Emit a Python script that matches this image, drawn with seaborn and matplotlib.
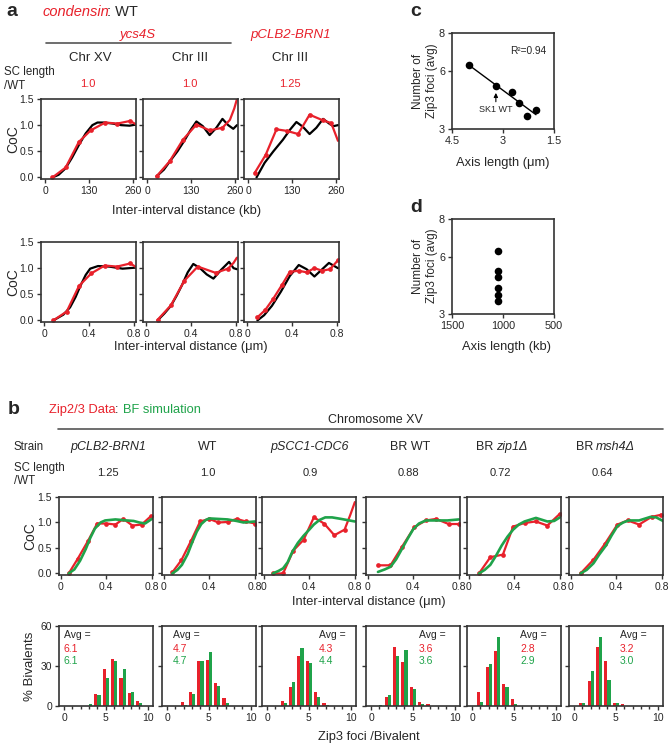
import numpy as np
import pandas as pd
import matplotlib
matplotlib.use('Agg')
import matplotlib.pyplot as plt
from matplotlib.lines import Line2D
import seaborn as sns

# ---------------- data ----------------
# Panel a, top row (kb)
A1_BLACK_X = [22, 40, 60, 80, 100, 120, 140, 155, 175, 200, 225, 250, 268]
A1_BLACK_Y = [0.0, 0.05, 0.17, 0.38, 0.62, 0.84, 1.0, 1.05, 1.05, 1.03, 1.0, 0.99, 1.01]
A1_RED_X = [22, 61, 100, 135, 178, 214, 251, 268]
A1_RED_Y = [0.0, 0.19, 0.68, 0.9, 1.05, 1.03, 1.08, 1.02]

A2_BLACK_X = [28, 50, 70, 90, 110, 130, 146, 165, 185, 205, 223, 240, 255, 266]
A2_BLACK_Y = [0.02, 0.15, 0.33, 0.5, 0.7, 0.92, 1.07, 0.98, 0.81, 0.95, 1.12, 1.0, 0.93, 1.0]
A2_RED_X = [28, 67, 106, 146, 185, 223, 245, 258, 266]
A2_RED_Y = [0.02, 0.31, 0.72, 1.01, 0.9, 0.95, 1.1, 1.32, 1.5]

A3_BLACK_X = [25, 49, 75, 103, 125, 143, 162, 182, 202, 222, 240, 252, 266]
A3_BLACK_Y = [0.0, 0.28, 0.5, 0.72, 0.92, 1.06, 0.97, 0.83, 0.95, 1.12, 1.03, 0.98, 1.0]
A3_RED_X = [20, 52, 84, 115, 148, 182, 222, 246, 266]
A3_RED_Y = [0.09, 0.43, 0.92, 0.89, 0.83, 1.2, 1.09, 1.04, 0.7]

# Panel a, bottom row (um)
A4_BLACK_X = [0.08, 0.17, 0.23, 0.28, 0.32, 0.37, 0.41, 0.48, 0.58, 0.7, 0.82]
A4_BLACK_Y = [0.0, 0.11, 0.25, 0.45, 0.65, 0.87, 0.99, 1.04, 1.03, 0.99, 1.01]
A4_RED_X = [0.08, 0.20, 0.31, 0.42, 0.54, 0.65, 0.77, 0.82]
A4_RED_Y = [0.0, 0.17, 0.66, 0.9, 1.05, 1.03, 1.09, 1.02]

A5_BLACK_X = [0.10, 0.16, 0.22, 0.27, 0.32, 0.37, 0.42, 0.48, 0.54, 0.60, 0.67, 0.74, 0.78, 0.81]
A5_BLACK_Y = [0.0, 0.13, 0.28, 0.47, 0.68, 0.92, 1.08, 1.0, 0.88, 0.80, 0.97, 1.12, 1.0, 0.98]
A5_RED_X = [0.10, 0.22, 0.34, 0.46, 0.62, 0.73, 0.78, 0.81]
A5_RED_Y = [0.01, 0.29, 0.76, 1.03, 0.91, 0.99, 1.1, 1.2]

A6_BLACK_X = [0.09, 0.15, 0.22, 0.30, 0.38, 0.46, 0.53, 0.60, 0.67, 0.73, 0.81]
A6_BLACK_Y = [0.0, 0.1, 0.28, 0.55, 0.85, 1.06, 0.98, 0.84, 0.98, 1.1, 1.0]
A6_RED_X = [0.09, 0.16, 0.23, 0.31, 0.38, 0.46, 0.53, 0.60, 0.67, 0.74, 0.81]
A6_RED_Y = [0.06, 0.2, 0.41, 0.68, 0.93, 0.95, 0.92, 1.0, 0.95, 0.98, 1.15]

# Panel c / d
C_AXIS_UM = [4.0, 3.21, 2.74, 2.53, 2.29, 2.03]
C_ZIP3 = [6.33, 5.24, 4.93, 4.35, 3.68, 3.99]
D_AXIS_KB = [1050, 1050, 1050, 1050, 1050, 1050]
D_ZIP3 = [6.33, 5.24, 4.93, 4.35, 3.99, 3.68]

# Panel b, CoC curves (um)
B1_RED_X = [0.07, 0.15, 0.24, 0.32, 0.40, 0.48, 0.55, 0.63, 0.71, 0.79]
B1_RED_Y = [0.0, 0.29, 0.64, 0.98, 0.98, 0.96, 1.07, 0.94, 0.96, 1.12]
B1_GRN_X = [0.07, 0.12, 0.17, 0.22, 0.26, 0.30, 0.35, 0.39, 0.48, 0.58, 0.64, 0.69, 0.74, 0.80]
B1_GRN_Y = [0.0, 0.08, 0.25, 0.48, 0.70, 0.88, 1.0, 1.04, 1.06, 1.04, 1.03, 1.0, 0.98, 1.07]

B2_RED_X = [0.075, 0.155, 0.24, 0.32, 0.40, 0.48, 0.56, 0.64, 0.72, 0.80]
B2_RED_Y = [0.02, 0.26, 0.64, 1.02, 1.07, 1.0, 1.01, 1.07, 1.02, 0.98]
B2_GRN_X = [0.075, 0.12, 0.16, 0.21, 0.25, 0.29, 0.33, 0.37, 0.40, 0.48, 0.56, 0.64, 0.70, 0.80]
B2_GRN_Y = [0.0, 0.07, 0.17, 0.38, 0.61, 0.82, 0.97, 1.05, 1.08, 1.07, 1.06, 1.03, 1.0, 1.02]

B3_RED_X = [0.08, 0.17, 0.26, 0.35, 0.44, 0.53, 0.62, 0.71, 0.76, 0.80]
B3_RED_Y = [0.0, 0.0, 0.45, 0.66, 1.1, 0.98, 0.75, 0.86, 1.15, 1.4]
B3_GRN_X = [0.08, 0.13, 0.17, 0.21, 0.25, 0.30, 0.35, 0.40, 0.44, 0.49, 0.54, 0.60, 0.68, 0.80]
B3_GRN_Y = [0.0, 0.05, 0.1, 0.22, 0.42, 0.6, 0.74, 0.86, 0.96, 1.05, 1.1, 1.1, 1.07, 1.02]

B4_RED_X = [0.09, 0.20, 0.30, 0.41, 0.51, 0.60, 0.71, 0.80]
B4_RED_Y = [0.16, 0.16, 0.52, 0.91, 1.04, 1.07, 0.97, 0.97]
B4_GRN_X = [0.09, 0.15, 0.20, 0.25, 0.30, 0.35, 0.40, 0.45, 0.51, 0.60, 0.70, 0.80]
B4_GRN_Y = [0.03, 0.08, 0.13, 0.28, 0.48, 0.68, 0.87, 0.98, 1.04, 1.04, 1.04, 1.06]

B5_RED_X = [0.09, 0.19, 0.30, 0.39, 0.49, 0.59, 0.69, 0.80]
B5_RED_Y = [0.0, 0.32, 0.37, 0.92, 0.99, 1.02, 0.94, 1.17]
B5_GRN_X = [0.09, 0.14, 0.19, 0.24, 0.29, 0.34, 0.39, 0.44, 0.49, 0.59, 0.69, 0.75, 0.80]
B5_GRN_Y = [0.0, 0.07, 0.17, 0.35, 0.55, 0.72, 0.86, 0.96, 1.02, 1.09, 1.02, 1.03, 1.1]

B6_RED_X = [0.086, 0.20, 0.30, 0.41, 0.50, 0.60, 0.71, 0.79, 0.81]
B6_RED_Y = [0.0, 0.27, 0.58, 0.96, 1.04, 0.96, 1.11, 1.15, 1.15]
B6_GRN_X = [0.086, 0.14, 0.20, 0.25, 0.31, 0.36, 0.41, 0.46, 0.51, 0.60, 0.70, 0.75, 0.81]
B6_GRN_Y = [0.0, 0.07, 0.2, 0.37, 0.55, 0.75, 0.93, 1.0, 1.04, 1.04, 1.11, 1.1, 1.03]

# Panel b, histograms: % bivalents with n = 0..10 Zip3 foci
FOCI = [0, 1, 2, 3, 4, 5, 6, 7, 8, 9, 10]
H1_RED = [0, 0, 0, 0, 8.8, 27.8, 35, 21, 9.5, 3.5, 0]
H1_GRN = [0, 0, 0, 1.5, 8, 21, 34, 28, 10.8, 2.5, 0]
H2_RED = [0, 0, 2.8, 10.8, 33.8, 34.5, 17, 5.8, 0, 0, 0]
H2_GRN = [0, 0, 0.5, 9, 33.8, 40.5, 15.3, 2.5, 0, 0, 0]
H3_RED = [0, 0, 3.8, 14, 37.5, 33.5, 10.8, 2.5, 0, 0, 0]
H3_GRN = [0, 0, 2.5, 17.8, 43.3, 32.3, 7, 0.5, 0, 0, 0]
H4_RED = [0, 0, 7, 44.5, 33.3, 14, 2.8, 1.8, 0, 0, 0]
H4_GRN = [0, 0.5, 8.3, 37.5, 42, 12.8, 1.5, 0, 0, 0, 0]
H5_RED = [0, 10.3, 29, 41.5, 16.3, 5.5, 0, 0, 0, 0, 0]
H5_GRN = [0, 2.8, 31.5, 52, 14.5, 1.3, 0, 0, 0, 0, 0]
H6_RED = [0, 2.5, 19, 44.5, 33.8, 2.5, 1.3, 0, 0, 0, 0]
H6_GRN = [0, 2.5, 26.3, 52, 19.5, 2.5, 0, 0, 0, 0, 0]

AVG_RED = ['6.1', '4.7', '4.3', '3.6', '2.8', '3.2']
AVG_GRN = ['6.1', '4.7', '4.4', '3.6', '2.9', '3.0']
SC_LENGTH_B = ['1.25', '1.0', '0.9', '0.88', '0.72', '0.64']

# ---------------- style ----------------
RED = '#e8212b'
GREEN = '#1fa34a'
SPINE = '#333333'

sns.set_style('ticks')
plt.rcParams['font.family'] = ['Liberation Sans', 'DejaVu Sans']
plt.rcParams['axes.linewidth'] = 1.2

W, H = 669, 748
fig = plt.figure(figsize=(W / 100, H / 100), dpi=100)


def add_ax(l, t, w, h):
    return fig.add_axes([l / W, 1 - (t + h) / H, w / W, h / H])


def txt(x, y, s, size=8, ha='center', va='center', **kw):
    fig.text(x / W, 1 - y / H, s, fontsize=size, ha=ha, va=va, **kw)


def hline(x0, x1, y, color='#555555', lw=1.2):
    fig.add_artist(Line2D([x0 / W, x1 / W], [1 - y / H, 1 - y / H],
                          color=color, lw=lw, transform=fig.transFigure))


def style(ax, lsize=7.5):
    for sp in ax.spines.values():
        sp.set_visible(True)
        sp.set_linewidth(1.2)
        sp.set_color(SPINE)
    ax.tick_params(direction='out', length=3, width=1, labelsize=lsize, pad=2,
                   color=SPINE)
    ax.set_xlabel('')
    ax.set_ylabel('')
    ax.grid(False)


def curve(ax, x, y, color, lw=1.5, nmark=None, msize=3.4):
    df = pd.DataFrame({'x': x, 'y': y})
    kw = {}
    if nmark is not None:
        kw = dict(marker='o', markersize=msize, markeredgewidth=0,
                  markevery=list(range(min(nmark, len(x)))))
    sns.lineplot(data=df, x='x', y='y', ax=ax, color=color, lw=lw,
                 sort=False, estimator=None, **kw)


# ---------------- panel a ----------------
txt(6, 12, 'a', size=14, ha='left', weight='bold')
txt(43, 12, 'condensin', size=10.5, ha='left', color=RED, style='italic')
txt(107, 12, ': WT', size=10.5, ha='left')
txt(138, 35, 'ycs4S', size=9.5, color=RED, style='italic')
hline(46, 231, 43)
txt(291, 35, 'pCLB2-BRN1', size=9.5, color=RED, style='italic')
for xc, s in zip([90, 190, 290], ['Chr XV', 'Chr III', 'Chr III']):
    txt(xc, 58, s, size=9.5)
txt(4, 72, 'SC length', size=8.3, ha='left')
txt(4, 86, '/WT', size=8.3, ha='left')
for xc, s in zip([88, 190, 290], ['1.0', '1.0', '1.25']):
    txt(xc, 84, s, size=8, color=RED)

a_lefts = [41, 143, 244]
top = [(A1_BLACK_X, A1_BLACK_Y, A1_RED_X, A1_RED_Y, 7),
       (A2_BLACK_X, A2_BLACK_Y, A2_RED_X, A2_RED_Y, 6),
       (A3_BLACK_X, A3_BLACK_Y, A3_RED_X, A3_RED_Y, 8)]
bot = [(A4_BLACK_X, A4_BLACK_Y, A4_RED_X, A4_RED_Y, 7),
       (A5_BLACK_X, A5_BLACK_Y, A5_RED_X, A5_RED_Y, 6),
       (A6_BLACK_X, A6_BLACK_Y, A6_RED_X, A6_RED_Y, 11)]

for row, (data, t, xl, xt, xtl) in enumerate([
        (top, 99, (-12, 269), [0, 130, 260], ['0', '130', '260']),
        (bot, 242, (-0.03, 0.82), [0, 0.4, 0.8], ['0', '0.4', '0.8'])]):
    for i, (bx, by, rx, ry, nm) in enumerate(data):
        ax = add_ax(a_lefts[i], t, 95, 80)
        curve(ax, bx, by, 'black', lw=1.6)
        curve(ax, rx, ry, RED, lw=1.6, nmark=nm)
        ax.set_xlim(*xl)
        ax.set_ylim(-0.03, 1.5)
        ax.set_xticks(xt)
        ax.set_xticklabels(xtl)
        ax.set_yticks([0, 0.5, 1.0, 1.5])
        ax.set_yticklabels(['0.0', '0.5', '1.0', '1.5'] if i == 0 else [])
        style(ax)
    txt(13, t + 40, 'CoC', size=10, rotation=90)

txt(187, 211, 'Inter-interval distance (kb)', size=9.3)
txt(191, 347, 'Inter-interval distance (\u03bcm)', size=9.3)

# ---------------- panel c ----------------
txt(410, 12, 'c', size=14, ha='left', weight='bold')
axc = add_ax(452, 33, 102, 96)
sns.regplot(x=np.array(C_AXIS_UM), y=np.array(C_ZIP3), ax=axc, ci=None, truncate=True,
            color='black', scatter_kws={'s': 30, 'linewidths': 0, 'alpha': 1},
            line_kws={'lw': 1.0})
axc.set_xlim(4.5, 1.5)
axc.set_ylim(3, 8)
axc.set_xticks([4.5, 3, 1.5])
axc.set_xticklabels(['4.5', '3', '1.5'])
axc.set_yticks([3, 6, 8])
axc.set_yticklabels(['3', '6', '8'])
style(axc, 7.8)
axc.annotate('', xy=(C_AXIS_UM[1], 4.88), xytext=(C_AXIS_UM[1], 4.42),
             arrowprops=dict(arrowstyle='-|>', lw=0.8, color='black',
                             mutation_scale=6, shrinkA=0, shrinkB=0))
axc.text(C_AXIS_UM[1], 4.0, 'SK1 WT', fontsize=6.5, ha='center', va='center')
txt(528, 51, 'R\u00b2=0.94', size=7.3)
txt(425, 81, 'Number of\nZip3 foci (avg)', size=8.5, rotation=90, linespacing=1.2)
txt(503, 163, 'Axis length (\u03bcm)', size=9.3)

# ---------------- panel d ----------------
txt(410, 207, 'd', size=14, ha='left', weight='bold')
axd = add_ax(452, 219, 102, 95)
sns.scatterplot(x=D_AXIS_KB, y=D_ZIP3, ax=axd, color='black', s=30, linewidth=0)
axd.set_xlim(1500, 500)
axd.set_ylim(3, 8)
axd.set_xticks([1500, 1000, 500])
axd.set_xticklabels(['1500', '1000', '500'])
axd.set_yticks([3, 6, 8])
axd.set_yticklabels(['3', '6', '8'])
style(axd, 7.8)
txt(425, 266, 'Number of\nZip3 foci (avg)', size=8.5, rotation=90, linespacing=1.2)
txt(507, 347, 'Axis length (kb)', size=9.3)

# ---------------- panel b ----------------
txt(8, 410, 'b', size=14, ha='left', weight='bold')
txt(49, 410, 'Zip2/3 Data', size=9.3, ha='left', color=RED)
txt(115, 410, ':', size=9.3, ha='left')
txt(123, 410, 'BF simulation', size=9.3, ha='left', color=GREEN)
txt(375, 420, 'Chromosome XV', size=9)
hline(58, 663, 429)

txt(14, 447, 'Strain', size=8.3, ha='left')
txt(108, 447, 'pCLB2-BRN1', size=9, style='italic')
txt(208, 447, 'WT', size=9)
txt(310, 447, 'pSCC1-CDC6', size=9, style='italic')
txt(410, 447, 'BR WT', size=9)
txt(493, 447, 'BR', size=9, ha='right')
txt(496, 447, 'zip1\u0394', size=9, ha='left', style='italic')
txt(593, 447, 'BR', size=9, ha='right')
txt(596, 447, 'msh4\u0394', size=9, ha='left', style='italic')
txt(14, 468, 'SC length', size=8.3, ha='left')
txt(14, 481, '/WT', size=8.3, ha='left')
for xc, s in zip([108, 208, 310, 408, 500, 602], SC_LENGTH_B):
    txt(xc, 473, s, size=8)

b_lefts = [59, 162, 262, 366, 467, 569]
b_curves = [(B1_RED_X, B1_RED_Y, B1_GRN_X, B1_GRN_Y, 10),
            (B2_RED_X, B2_RED_Y, B2_GRN_X, B2_GRN_Y, 10),
            (B3_RED_X, B3_RED_Y, B3_GRN_X, B3_GRN_Y, 8),
            (B4_RED_X, B4_RED_Y, B4_GRN_X, B4_GRN_Y, 8),
            (B5_RED_X, B5_RED_Y, B5_GRN_X, B5_GRN_Y, 8),
            (B6_RED_X, B6_RED_Y, B6_GRN_X, B6_GRN_Y, 8)]
for i, (rx, ry, gx, gy, nm) in enumerate(b_curves):
    ax = add_ax(b_lefts[i], 497, 94, 78)
    curve(ax, rx, ry, RED, lw=1.6, nmark=nm)
    curve(ax, gx, gy, GREEN, lw=1.9)
    ax.set_xlim(-0.015, 0.81)
    ax.set_ylim(-0.03, 1.5)
    ax.set_xticks([0, 0.4, 0.8])
    ax.set_xticklabels(['0', '0.4', '0.8'])
    ax.set_yticks([0, 0.5, 1.0, 1.5])
    ax.set_yticklabels(['0.0', '0.5', '1.0', '1.5'] if i == 0 else [])
    style(ax)
txt(30, 536, 'CoC', size=10, rotation=90)
txt(369, 602, 'Inter-interval distance (\u03bcm)', size=9.3)

hists = [(H1_RED, H1_GRN), (H2_RED, H2_GRN), (H3_RED, H3_GRN),
         (H4_RED, H4_GRN), (H5_RED, H5_GRN), (H6_RED, H6_GRN)]
avg_dx = [5, 11, 57, 53, 53, 51]
for i, (hr, hg) in enumerate(hists):
    ax = add_ax(b_lefts[i], 626, 94, 80)
    df = pd.DataFrame({'n': FOCI * 2, 'pct': hr + hg,
                       'src': ['Data'] * len(FOCI) + ['BF'] * len(FOCI)})
    sns.barplot(data=df, x='n', y='pct', hue='src', hue_order=['Data', 'BF'],
                palette={'Data': RED, 'BF': GREEN}, native_scale=True,
                width=0.74, gap=0, errorbar=None, legend=False, ax=ax,
                linewidth=0, saturation=1)
    ax.set_xlim(-0.6, 10.65)
    ax.set_ylim(0, 60)
    ax.set_xticks([0, 5, 10])
    ax.set_xticklabels(['0', '5', '10'])
    ax.set_xticks(list(range(11)), minor=True)
    ax.set_yticks([0, 30, 60])
    ax.set_yticklabels(['0', '30', '60'] if i == 0 else [])
    style(ax)
    ax.tick_params(which='minor', direction='out', length=2.5, width=1, color=SPINE)
    x0 = b_lefts[i] + avg_dx[i]
    txt(x0, 635, 'Avg =', size=7.5, ha='left')
    txt(x0, 649, AVG_RED[i], size=7.5, ha='left', color=RED)
    txt(x0, 661, AVG_GRN[i], size=7.5, ha='left', color=GREEN)
txt(30, 666, '% Bivalents', size=9.5, rotation=90)
txt(369, 737, 'Zip3 foci /Bivalent', size=9.3)

fig.savefig('out.png', dpi=100)
